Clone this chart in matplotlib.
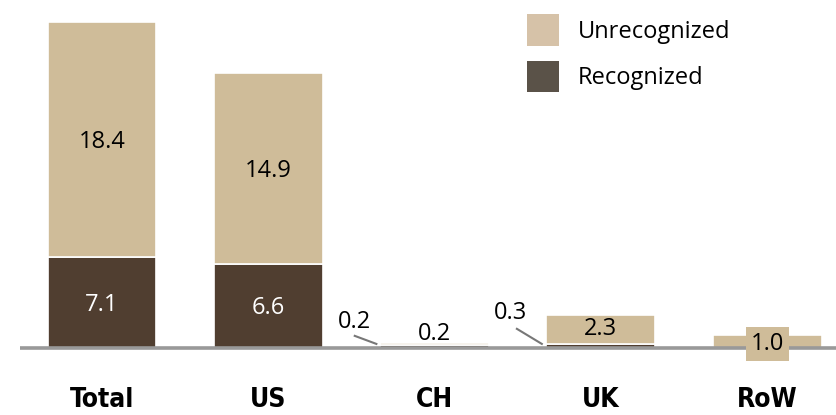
import matplotlib
matplotlib.use("Agg")
import matplotlib.pyplot as plt
from matplotlib.patches import Patch
from matplotlib import font_manager as fm
import numpy as np

categories = ["Total", "US", "CH", "UK", "RoW"]
recognized = [7.1, 6.6, 0.2, 0.3, 0.0]
unrecognized = [18.4, 14.9, 0.2, 2.3, 1.0]

TAN = "#CFBC99"
DARK = "#503E30"
AXIS = "#999999"

plt.rcParams['font.family'] = ['Open Sans', 'DejaVu Sans']

# find a condensed bold font for category labels if available
cond_path = None
for f in fm.fontManager.ttflist:
    n = f.name.lower()
    if ("narrow" in n or "condensed" in n or f.stretch in ("condensed", "semi-condensed")) \
            and f.weight in ("bold", 700, "heavy", 800):
        cond_path = f.fname
        break
if cond_path is None:
    for f in fm.fontManager.ttflist:
        n = (f.name + f.fname).lower()
        if ("narrow" in n or "condensed" in n) and "bold" in f.fname.lower():
            cond_path = f.fname
            break

W, H = 837, 415
fig = plt.figure(figsize=(W / 100, H / 100), dpi=100)
ax = fig.add_axes([20 / W, 0, 1 - 20 / W, 1])
ax.set_xlim(-0.493, 4.42)
ax.set_ylim(-67 / 12.78, 348 / 12.78)
ax.axis("off")

x = np.arange(len(categories))
bw = 0.655
rec = np.array(recognized)
unr = np.array(unrecognized)

ax.bar(x, rec, bw, color=DARK, edgecolor="white", linewidth=1.2, zorder=2)
ax.bar(x, unr, bw, bottom=rec, color=TAN, edgecolor="white", linewidth=1.2, zorder=2)
ax.axhline(0, color=AXIS, lw=2.6, zorder=3)

fs = 17
for i in (0, 1):
    ax.text(x[i], rec[i] / 2 - 0.15, f"{rec[i]:.1f}", ha="center", va="center",
            color="white", fontsize=fs, zorder=4)
    ax.text(x[i], rec[i] + unr[i] / 2 - 0.2, f"{unr[i]:.1f}", ha="center", va="center",
            color="black", fontsize=fs, zorder=4)

# CH
i = 2
ax.text(x[i], 1.1, f"{unr[i]:.1f}", ha="center", va="center", fontsize=fs, zorder=4)
ax.plot([x[i] - 0.48, x[i] - 0.35], [0.95, 0.32], color="#777777", lw=1.5, zorder=4)
ax.text(x[i] - 0.48, 2.05, f"{rec[i]:.1f}", ha="center", va="center", fontsize=fs, zorder=4)

# UK
i = 3
ax.text(x[i], rec[i] + unr[i] / 2, f"{unr[i]:.1f}", ha="center", va="center",
        fontsize=fs, zorder=4)
ax.plot([x[i] - 0.505, x[i] - 0.355], [1.5, 0.32], color="#777777", lw=1.5, zorder=4)
ax.text(x[i] - 0.545, 2.75, f"{rec[i]:.1f}", ha="center", va="center", fontsize=fs, zorder=4)

# RoW
i = 4
ax.text(x[i], 0.3, f"{unr[i]:.1f}", ha="center", va="center", fontsize=fs, zorder=4,
        bbox=dict(boxstyle="square,pad=0.2", fc=TAN, ec="none"))

# category labels
for xi, c in zip(x, categories):
    if cond_path:
        ax.text(xi, -4.1, c, ha="center", va="center",
                fontproperties=fm.FontProperties(fname=cond_path, size=19))
    else:
        ax.text(xi, -4.1, c, ha="center", va="center", fontsize=17, fontweight="bold")

handles = [Patch(facecolor="#D6C2A8", edgecolor="none", label="Unrecognized"),
           Patch(facecolor="#5A5248", edgecolor="none", label="Recognized")]
fig.legend(handles=handles, loc="upper left", bbox_to_anchor=(527 / W, 1 - 14 / H),
           frameon=False, fontsize=17, handlelength=1.35, handleheight=1.7,
           handletextpad=0.8, labelspacing=0.62, borderpad=0, borderaxespad=0)

fig.savefig("out.png", dpi=100)
